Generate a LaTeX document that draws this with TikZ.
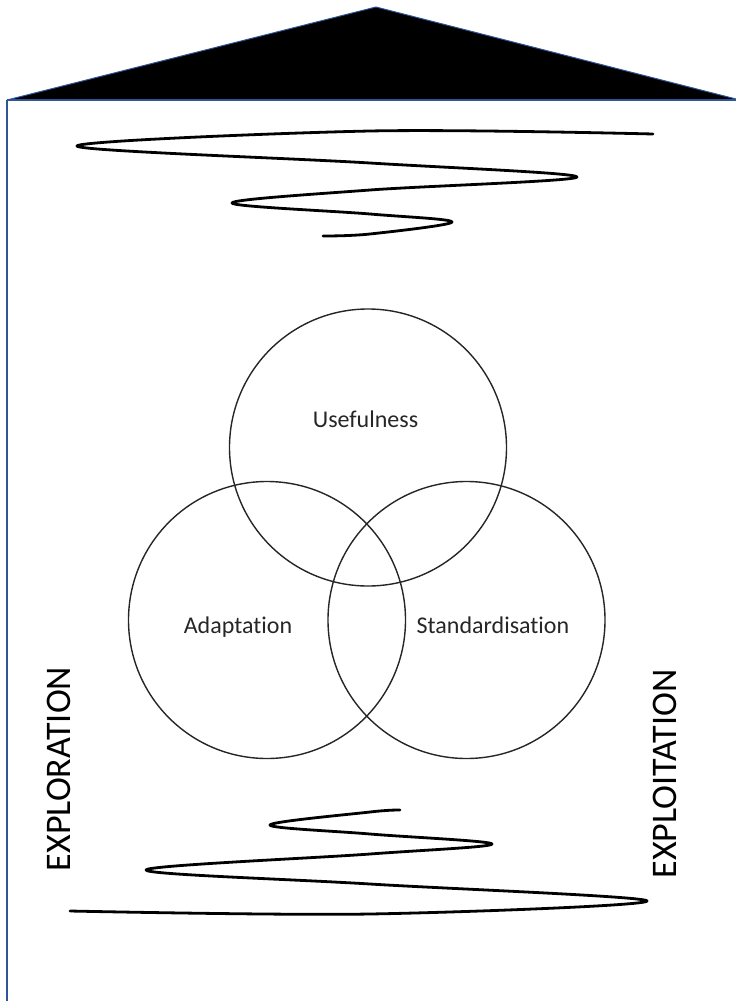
\documentclass[tikz,border=0pt]{standalone}
\usepackage{fontspec}
\setmainfont{Carlito}[Ligatures={NoCommon}]
\definecolor{wallblue}{RGB}{47,85,151}
\begin{document}
\begin{tikzpicture}[x=1pt,y=-1pt,
  squiggle/.style={line width=2.8pt, line cap=round, line join=round},
  venn/.style={circle, draw=black!85, line width=1.4pt, minimum size=277pt, inner sep=0pt},
  vennlabel/.style={font=\fontsize{24}{28}\selectfont, text=black!85, inner sep=0pt, anchor=base},
  sidelabel/.style={font=\fontsize{36}{40}\selectfont, rotate=90, inner sep=0pt}]
\path[use as bounding box] (0,0) rectangle (736,1001);

% roof
\coordinate (rl) at (7,100);
\coordinate (rt) at (376,7);
\coordinate (rr) at (736,99);
\coordinate (wb) at (7,1001);
\fill[black] (rl) -- (rt) -- (rr) -- cycle;
\draw[wallblue, line width=1pt, line join=round] (rl) -- (rt) -- (rr);
\draw[wallblue, line width=2.4pt] (rl) -- (736,100);
\draw[wallblue, line width=1.8pt] (rl) -- (wb);

% top squiggle
\draw[squiggle] plot[smooth, tension=0.55] coordinates {
  (653,134) (370,131) (77,146) (370,163) (577,177) (370,190)
  (232,203) (370,214) (452,222) (370,234) (323,236)};

% bottom squiggle
\draw[squiggle] plot[smooth, tension=0.55] coordinates {
  (400,810) (370,812) (270,825) (370,834) (492,844) (370,854)
  (146,870) (370,884) (647,901) (370,914) (70,911)};

% venn circles
\node[venn] (use) at (368,447.5) {};
\node[venn] (ada) at (267,620) {};
\node[venn] (std) at (466.5,620) {};

\node[vennlabel] (usel) at (365.5,427) {Usefulness};
\node[vennlabel] (adal) at (238,633) {Adaptation};
\node[vennlabel] (stdl) at (493,633) {Standardisation};

\node[sidelabel] (explor) at (58.5,769) {EXPLORATION};
\node[sidelabel] (exploi) at (665,774) {EXPLOITATION};
\end{tikzpicture}
\end{document}
